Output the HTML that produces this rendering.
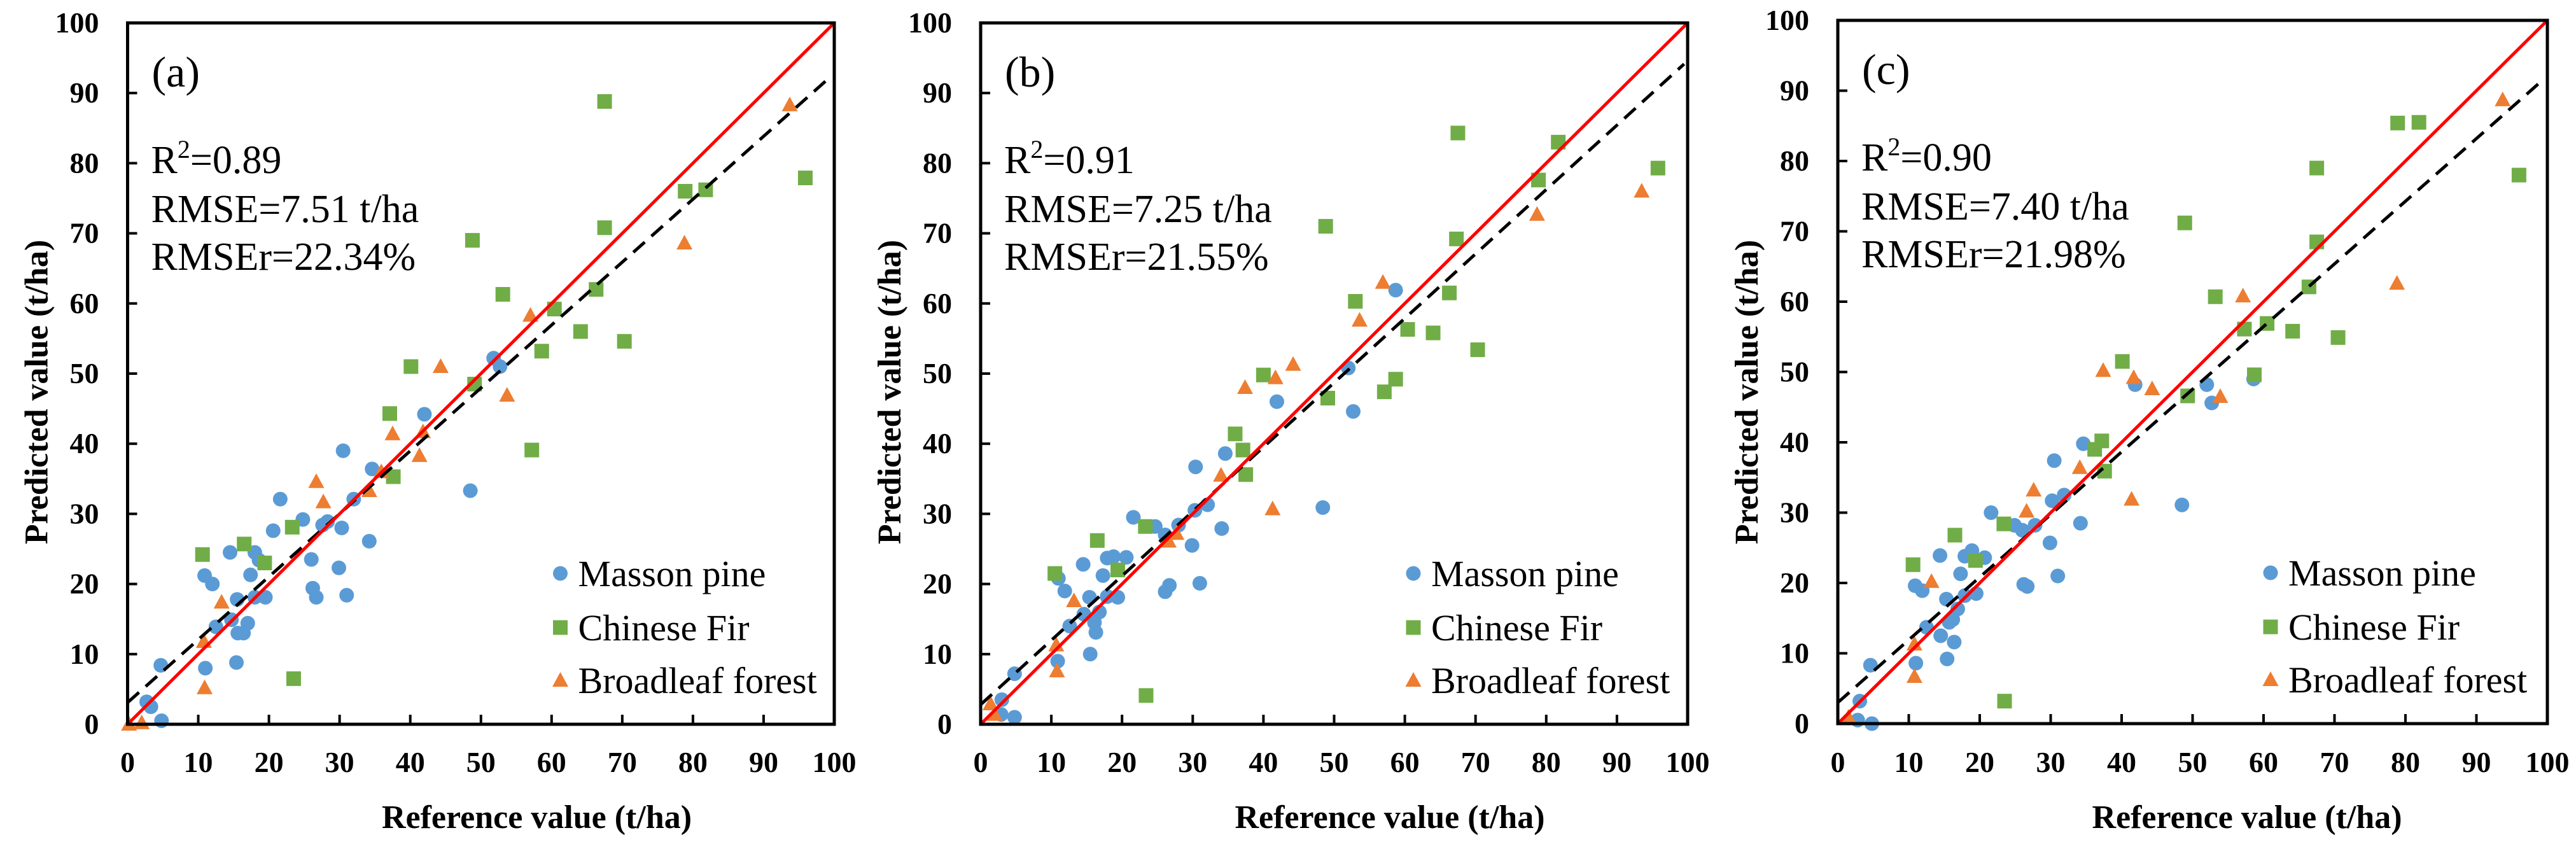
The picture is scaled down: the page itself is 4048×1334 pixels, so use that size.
<!DOCTYPE html>
<html><head><meta charset="utf-8">
<style>
html,body{margin:0;padding:0;background:#fff;font-family:"Liberation Serif","Times New Roman",Times,"DejaVu Serif",serif;}
svg{display:block;}
svg text{font-family:"Liberation Serif","Times New Roman",Times,"DejaVu Serif",serif;}
</style></head>
<body>
<svg id="chart" width="4048" height="1334" viewBox="0 0 4048 1334" xmlns="http://www.w3.org/2000/svg"></svg>
<script>
// ---- data ----
const tickValues = [0,10,20,30,40,50,60,70,80,90,100];
const panelLabels = ["(a)","(b)","(c)"];
const r2Labels = ["R","R","R"];
const r2Values = ["0.89","0.91","0.90"];
const rmseValues = ["7.51","7.25","7.40"];
const rmserValues = ["22.34","21.55","21.98"];
const seriesNames = ["Masson pine","Chinese Fir","Broadleaf forest"];
const fitIntercepts = [3.1, 2.8, 3.0];
const fitSlopes = [0.897, 0.918, 0.891];

const massonA = [[2.7,3.2],[3.3,2.5],[4.8,0.5],[4.7,8.4],[11,8.0],[10.9,21.2],[12,20],[12.5,13.9],[14.5,24.5],[14.7,14.9],[15.4,8.8],[15.5,17.8],[15.6,13],[16.4,13],[17,14.4],[17.4,21.3],[18,24.5],[18.6,23.4],[18,18.1],[19.5,18.1],[20.6,27.6],[21.6,32.1],[24.8,29.2],[26,23.5],[26.2,19.4],[26.7,18.1],[27.6,28.4],[28.3,28.9],[29.9,22.3],[30.3,28],[30.5,39],[31,18.4],[32,32.1],[34.2,26.1],[34.6,36.4],[42,44.2],[48.5,33.3],[51.8,52.2],[52.7,51]];
const firA = [[10.6,24.2],[16.5,25.7],[19.4,23],[23.5,6.5],[23.3,28.1],[37.1,44.3],[37.6,35.3],[40.1,51],[49.1,48.5],[48.8,69],[53.1,61.3],[57.2,39.1],[58.6,53.2],[60.4,59.2],[64.1,56],[66.3,62],[67.5,88.8],[67.5,70.8],[70.3,54.6],[78.9,76],[81.8,76.2],[95.9,77.9]];
const broadA = [[0.2,0],[2,0.2],[10.8,11.8],[10.9,5.2],[13.3,17.4],[26.7,34.6],[27.7,31.7],[34.2,33.3],[35.9,36],[37.5,41.4],[41.3,38.3],[41.8,41.7],[44.3,51],[53.7,46.9],[57,58.3],[78.8,68.6],[93.7,88.3]];

const massonB = [[3,3.5],[2.9,1.4],[4.8,7.2],[4.8,1],[11,20.8],[10.9,9],[11.9,19],[12.6,14],[14.5,22.8],[14.6,15.7],[15.4,18.1],[15.5,10],[16.1,14.5],[16.3,13.1],[16.8,16],[17.3,21.2],[17.9,23.7],[18.8,23.9],[17.9,18.2],[19.4,18.1],[20.6,23.8],[21.6,29.5],[24.7,28.2],[26.1,27],[26.1,18.9],[26.7,19.8],[28,28.4],[29.9,25.5],[30.3,30.5],[30.4,36.7],[31,20.1],[32.1,31.3],[34.1,27.9],[34.6,38.6],[41.9,46],[48.4,30.9],[52,50.8],[52.7,44.6],[58.7,61.9]];
const firB = [[10.5,21.5],[16.5,26.2],[19.4,22],[23.4,4.1],[23.3,28.2],[36,41.4],[37.1,39.1],[37.5,35.6],[40,49.8],[49.1,46.5],[48.8,71],[53,60.3],[57.1,47.4],[58.7,49.2],[60.4,56.3],[64,55.8],[66.3,61.5],[67.5,84.3],[67.3,69.2],[70.3,53.4],[78.9,77.6],[81.7,83],[95.8,79.3]];
const broadB = [[1.4,2.9],[2,1.4],[10.7,11.3],[10.8,7.6],[13.2,17.6],[26.6,26.1],[27.7,27.2],[34,35.5],[37.4,48],[41.3,30.7],[41.7,49.4],[44.2,51.3],[53.6,57.6],[56.9,63],[78.7,72.7],[93.5,76]];

const massonC = [[3.1,3.2],[2.8,0.5],[4.8,0],[4.6,8.3],[10.9,19.6],[11,8.6],[11.9,18.9],[12.5,13.7],[14.4,23.9],[14.5,12.5],[15.3,17.7],[15.4,9.2],[15.7,14.4],[16.2,14.8],[16.4,11.6],[16.9,16.3],[17.3,21.3],[17.9,23.8],[18.9,24.6],[17.9,18.2],[19.5,18.5],[20.7,23.6],[21.6,30],[24.9,28.2],[26,27.5],[26.2,19.8],[26.7,19.5],[27.8,28.2],[29.9,25.7],[30.2,31.7],[30.5,37.4],[31,21],[31.9,32.5],[34.2,28.5],[34.6,39.8],[41.9,48.2],[48.5,31.1],[52,48.2],[52.7,45.6],[58.6,49]];
const firC = [[10.6,22.6],[16.5,26.8],[19.4,23.2],[23.5,3.2],[23.4,28.4],[36.2,39],[37.2,40.2],[37.6,35.9],[40.1,51.5],[49.3,46.6],[48.9,71.2],[53.2,60.7],[57.3,56.1],[58.7,49.6],[60.5,56.9],[64.1,55.8],[66.4,62.1],[67.5,79],[67.5,68.5],[70.5,54.9],[78.9,85.4],[81.9,85.5],[96,78]];
const broadC = [[1.5,0.9],[10.8,11.3],[10.8,6.7],[13.2,20.2],[26.6,30.2],[27.6,33.2],[34.1,36.4],[37.4,50.2],[41.4,31.9],[41.7,49.2],[44.3,47.6],[53.9,46.5],[57.1,60.8],[78.8,62.6],[93.7,88.7]];

const massonSets = [massonA, massonB, massonC];
const firSets = [firA, firB, firC];
const broadSets = [broadA, broadB, broadC];

// ---- layout ----
const frames = [
  {x0:200.5, x1:1311, y0:36, y1:1138},
  {x0:1541, x1:2652, y0:36, y1:1138},
  {x0:2888, x1:4003, y0:32, y1:1137}
];
const COLORS = ["#5B9BD5","#70AD47","#ED7D31"];
const NS = "http://www.w3.org/2000/svg";
const svg = document.getElementById("chart");
function mk(tag, attrs, parent){
  const e = document.createElementNS(NS, tag);
  for (const k in attrs) e.setAttribute(k, attrs[k]);
  (parent||svg).appendChild(e);
  return e;
}
function marker(g, kind, cx, cy, color){
  let e;
  if (kind===0) e = mk("circle",{cx:cx,cy:cy,r:11.5,fill:color},g);
  else if (kind===1) e = mk("rect",{x:cx-11.5,y:cy-11.5,width:23,height:23,fill:color},g);
  else e = mk("polygon",{points:`${cx},${cy-13} ${cx+12.5},${cy+10} ${cx-12.5},${cy+10}`,fill:color},g);
  return e;
}

frames.forEach((f, p) => {
  const sx = v => f.x0 + (f.x1 - f.x0) * v / 100;
  const sy = v => f.y1 - (f.y1 - f.y0) * v / 100;
  const panel = mk("g",{});
  
  

  const xt = mk("g",{}, panel);
  
  
  const yt = mk("g",{}, panel);
  
  
  tickValues.forEach(t => {
    mk("line",{x1:sx(t),x2:sx(t),y1:f.y1,y2:f.y1-15,stroke:"#000","stroke-width":4},xt);
    const lx = mk("text",{x:sx(t),y:1213,"text-anchor":"middle","font-size":46,"font-weight":"bold"},xt);
    lx.textContent = t;
    
    
    mk("line",{x1:f.x0,x2:f.x0+15,y1:sy(t),y2:sy(t),stroke:"#000","stroke-width":4},yt);
    const ly = mk("text",{x:f.x0-45,y:sy(t)+15,"text-anchor":"end","font-size":46,"font-weight":"bold"},yt);
    ly.textContent = t;
    
    
  });

  const sets = [massonSets[p], firSets[p], broadSets[p]];
  const pg = mk("g",{}, panel);
  
  
  sets.forEach((set, k) => {
    set.forEach(d => {
      const m = marker(pg, k, sx(d[0]), sy(d[1]), COLORS[k]);
      
      
    });
  });

  const xe = 99.5;
  const fit = mk("line",{x1:sx(0),y1:sy(fitIntercepts[p]),x2:sx(xe),y2:sy(fitIntercepts[p]+fitSlopes[p]*xe),stroke:"#000","stroke-width":5,"stroke-dasharray":"24,14"}, panel);
  
  
  const one = mk("line",{x1:sx(0),y1:sy(0),x2:sx(100),y2:sy(100),stroke:"#FF0000","stroke-width":5}, panel);
  
  

  const fr = mk("rect",{x:f.x0,y:f.y0,width:f.x1-f.x0,height:f.y1-f.y0,fill:"none",stroke:"#000","stroke-width":5}, panel);
  
  

  const pl = mk("text",{x:f.x0+38,y:f.y0+100,"font-size":68}, panel);
  pl.textContent = panelLabels[p];
  
  
  const st = mk("g",{}, panel);
  
  
  const t1 = mk("text",{x:f.x0+37,y:f.y0+236,"font-size":62}, st);
  t1.appendChild(document.createTextNode(r2Labels[p]));
  const sup = mk("tspan",{dy:-24,"font-size":40}, t1); sup.textContent = "2";
  const rest = mk("tspan",{dy:24}, t1); rest.textContent = "=" + r2Values[p];
  const t2 = mk("text",{x:f.x0+37,y:f.y0+313,"font-size":62}, st);
  t2.textContent = "RMSE=" + rmseValues[p] + " t/ha";
  const t3 = mk("text",{x:f.x0+37,y:f.y0+388,"font-size":62}, st);
  t3.textContent = "RMSEr=" + rmserValues[p] + "%";

  const lg = mk("g",{}, panel);
  
  
  const legY = [921, 1006, 1089];
  seriesNames.forEach((n, k) => {
    const e = mk("g",{}, lg);
    
    
    const by = legY[k] + (f.y1 - 1138);
    marker(e, k, f.x0 + 680, by - 20, COLORS[k]);
    const tx = mk("text",{x:f.x0+708,y:by,"font-size":58}, e);
    tx.textContent = n;
  });

  const xtitle = mk("text",{x:f.x0+643,y:1301,"text-anchor":"middle","font-size":52,"font-weight":"bold"}, panel);
  xtitle.textContent = "Reference value (t/ha)";
  
  
  const cy = 616, cx = f.x0 - 126;
  const ytitle = mk("text",{x:cx,y:cy,"text-anchor":"middle","font-size":52,"font-weight":"bold",transform:`rotate(-90 ${cx} ${cy})`}, panel);
  ytitle.textContent = "Predicted value (t/ha)";
  
  
});
</script>
</body></html>
